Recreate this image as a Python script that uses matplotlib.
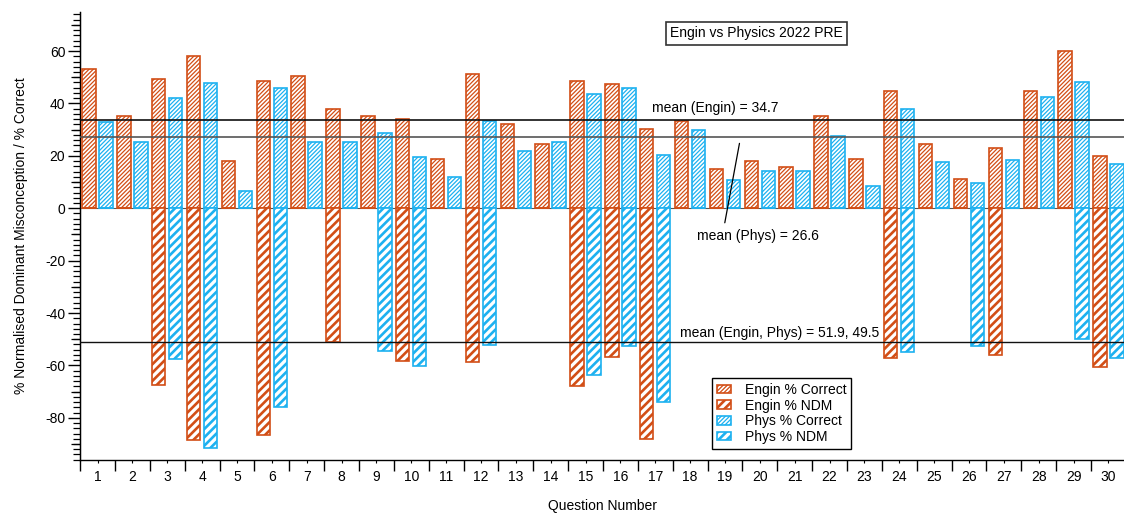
import numpy as np
import matplotlib
matplotlib.use('Agg')
import matplotlib.pyplot as plt
from matplotlib.ticker import MultipleLocator, NullLocator

plt.rcParams['font.family'] = ['Liberation Sans', 'DejaVu Sans']
plt.rcParams['font.size'] = 10
plt.rcParams['axes.unicode_minus'] = False

# Values
questions = list(range(1, 31))
question_labels = [str(q) for q in questions]
engin_correct = [53.3, 35.2, 49.5, 58.0, 18.0, 48.5, 50.4, 38.0, 35.2, 34.1,
                 18.9, 51.4, 32.2, 24.6, 48.5, 47.6, 30.3, 33.4, 15.1, 18.0,
                 15.6, 35.2, 18.9, 44.8, 24.6, 11.3, 22.8, 44.8, 60.0, 20.0]
phys_correct = [32.9, 25.1, 42.0, 47.7, 6.7, 45.8, 25.1, 25.1, 28.6, 19.4,
                11.8, 33.4, 22.0, 25.1, 43.6, 45.8, 20.4, 30.0, 10.6, 14.1,
                14.1, 27.7, 8.4, 37.9, 17.5, 9.5, 18.5, 42.5, 48.2, 17.0]
engin_ndm = [0, 0, -67.4, -88.6, 0, -86.7, 0, -50.9, 0, -58.2,
             0, -58.7, 0, 0, -68.0, -56.7, -88.1, 0, 0, 0,
             0, 0, 0, -57.1, 0, 0, -55.9, 0, 0, -60.6]
phys_ndm = [0, 0, -57.5, -91.5, 0, -75.7, 0, 0, -54.6, -60.3,
            0, -52.2, 0, 0, -63.5, -52.4, -73.9, 0, 0, 0,
            0, 0, 0, -54.8, 0, -52.4, 0, 0, -49.9, -57.0]
mean_engin_line = 33.8
mean_phys_line = 27.0
mean_ndm_line = -51.0

orange = '#D24E16'
blue = '#1DB1F0'
hatch_lw_correct = 0.9
hatch_lw_ndm = 1.9

fig = plt.figure(figsize=(11.24, 5.13), dpi=100)
ax = fig.add_axes([80.07 / 1124, 53 / 513, 1045.8 / 1124, 448 / 513])

x = np.array(questions)
off = 0.244
w = 0.385


def hatched_bars(xpos, vals, col, hatch, hlw, label):
    plt.rcParams['hatch.linewidth'] = hlw
    bars = ax.bar(xpos, vals, width=w, color='white', edgecolor=col,
                  hatch=hatch, linewidth=1.2, label=label, zorder=3)
    for b in bars:
        try:
            b.set_hatch_linewidth(hlw)
        except AttributeError:
            pass
    return bars


ax.axhline(0, color='#555555', lw=0.8, zorder=1)
hatched_bars(x - off, engin_correct, orange, '////////', hatch_lw_correct, 'Engin % Correct')
hatched_bars(x - off, engin_ndm, orange, '////', hatch_lw_ndm, 'Engin % NDM')
hatched_bars(x + off, phys_correct, blue, '////////', hatch_lw_correct, 'Phys % Correct')
hatched_bars(x + off, phys_ndm, blue, '////', hatch_lw_ndm, 'Phys % NDM')

ax.axhline(mean_engin_line, color='#111111', lw=1.2, zorder=4)
ax.axhline(mean_phys_line, color='#555555', lw=1.2, zorder=4)
ax.axhline(mean_ndm_line, color='#111111', lw=1.0, zorder=4)

ax.text(16.9, 38.4, 'mean (Engin) = 34.7', va='center', ha='left', zorder=5)
ax.text(18.2, -10.5, 'mean (Phys) = 26.6', va='center', ha='left', zorder=5)
ax.annotate('', xy=(19.43, 25.8), xytext=(18.98, -6.6),
            arrowprops=dict(arrowstyle='-', color='black', lw=0.9), zorder=5)
ax.text(17.71, -47.5, 'mean (Engin, Phys) = 51.9, 49.5', va='center', ha='left', zorder=5)

fig.text(756.5 / 1124, 1 - 33.5 / 513, 'Engin vs Physics 2022 PRE', ha='center', va='center',
         bbox=dict(boxstyle='square,pad=0.3', fc='white', ec='#333333', lw=1.2))

plt.rcParams['hatch.linewidth'] = hatch_lw_correct
leg = ax.legend(loc='upper left', bbox_to_anchor=(712 / 1124, 1 - 378 / 513),
                bbox_transform=fig.transFigure, borderaxespad=0, fancybox=False,
                framealpha=1, edgecolor='black', handlelength=1.0, handleheight=0.6,
                handletextpad=1.0, labelspacing=0.12, borderpad=0.35)
leg.get_frame().set_linewidth(1.0)
leg.set_zorder(6)
for h, hlw in zip(leg.legend_handles, [hatch_lw_correct, hatch_lw_ndm, hatch_lw_correct, hatch_lw_ndm]):
    try:
        h.set_hatch_linewidth(hlw)
    except AttributeError:
        pass

ax.set_xlim(0.5, 30.5)
ax.set_ylim(-96.1, 74.9)

ax.set_xticks(np.arange(0.5, 31, 1))
ax.set_xticklabels([])
ax.set_xticks(x, minor=True)
ax.set_xticklabels(question_labels, minor=True)
ax.tick_params(axis='x', which='major', direction='out', length=8, width=1)
ax.tick_params(axis='x', which='minor', direction='out', length=2, width=0.8, pad=5)

ax.yaxis.set_major_locator(MultipleLocator(20))
ax.yaxis.set_minor_locator(MultipleLocator(2))
ax.tick_params(axis='y', which='major', direction='out', length=8.6, width=1, pad=2)
ax.tick_params(axis='y', which='minor', direction='out', length=4.7, width=0.9)

sec = ax.secondary_yaxis('left')
sec.set_yticks([-90, -70, -50, -30, -10, 10, 30, 50, 70])
sec.yaxis.set_minor_locator(NullLocator())
sec.tick_params(axis='y', which='major', length=6.5, width=0.9, labelleft=False)

for s in ['top', 'right']:
    ax.spines[s].set_visible(False)
ax.spines['left'].set_linewidth(1.0)
ax.spines['bottom'].set_linewidth(1.0)

ax.set_xlabel('Question Number', labelpad=11)
ax.set_ylabel('% Normalised Dominant Misconception / % Correct', labelpad=12)

fig.savefig('out.png', dpi=100)
